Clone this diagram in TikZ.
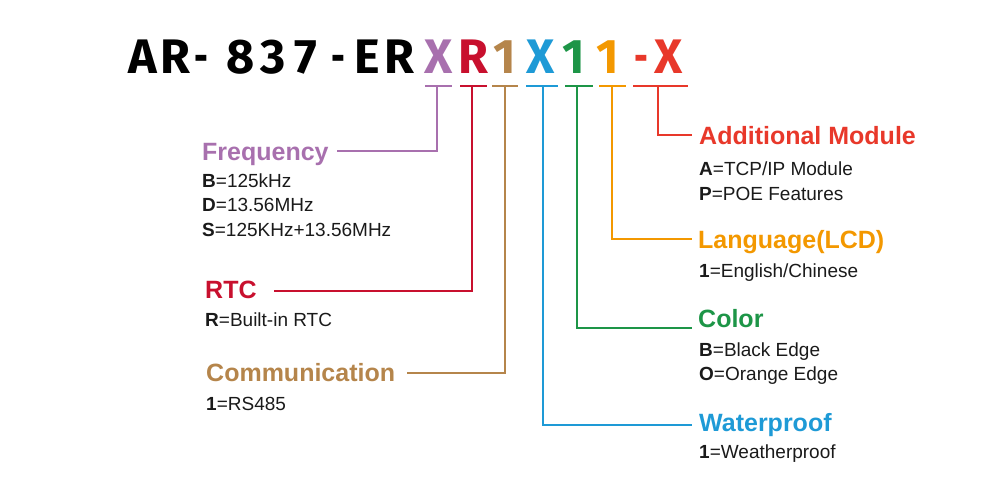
\documentclass[tikz,border=0pt]{standalone}
\usepackage{fontspec}
\setmainfont{Liberation Sans}
\newfontfamily\titlefont{Fira Sans}
\usepackage{graphicx}
\usepackage{tikz}
\newcommand\codedash{\scalebox{0.7}[1]{-}}
\definecolor{cfreq}{HTML}{A870AE}
\definecolor{crtc}{HTML}{C8102E}
\definecolor{ccomm}{HTML}{B5854B}
\definecolor{cwater}{HTML}{1E9AD6}
\definecolor{ccolor}{HTML}{1D9547}
\definecolor{clang}{HTML}{F39800}
\definecolor{cmod}{HTML}{E8382A}
\definecolor{ctext}{HTML}{1A1A1A}

\begin{document}
\begin{tikzpicture}[x=1pt, y=-1pt, every node/.style={inner sep=0pt, anchor=base west},
	letter/.style={anchor=base, font=\titlefont\bfseries\fontsize{48.5}{48.5}\selectfont},
	head/.style={font=\bfseries\fontsize{25}{25}\selectfont, text height=17.5pt, text depth=0pt},
	desc/.style={font=\fontsize{19}{19}\selectfont, text=ctext},
	lead/.style={line width=1.7pt}]
	
	\useasboundingbox (0,0) rectangle (1000,500);
	
	% model code
	\foreach \ch/\xx/\cc [count=\i] in {A/142.5/black, R/175/black, \codedash/201.5/black, 8/240.5/black, 3/273.5/black, 7/305.5/black, \codedash/338.5/black, E/367/black, R/399/black, X/439/cfreq, R/473.5/crtc, 1/504.5/ccomm, X/541/cwater, 1/574/ccolor, 1/607.5/clang, \codedash/641/cmod, X/669/cmod}
	\node[letter, text=\cc] (t\i) at (\xx,74) {\ch};
	
	% underlines
	\foreach \a/\b/\m/\cc [count=\i] in {425/452/437/cfreq, 460/487/472/crtc, 492/518/505/ccomm, 526/558/543/cwater, 565/593/577/ccolor, 599/626/612/clang, 633/688/658/cmod}
	{
		\draw[lead, \cc] (\a,86) -- (\b,86);
		\coordinate (u\i) at (\m,86);
	}
	
	% left column
	\node[head, text=cfreq] (freq) at (202,160) {Frequency};
	\node[desc] (freqB) at (202,187.3) {\textbf{B}=125kHz};
	\node[desc] (freqD) at (202,211.7) {\textbf{D}=13.56MHz};
	\node[desc] (freqS) at (202,236) {\textbf{S}=125KHz+13.56MHz};
	
	\node[head, text=crtc] (rtc) at (205,298) {RTC};
	\node[desc] (rtcR) at (205,326.7) {\textbf{R}=Built-in RTC};
	
	\node[head, text=ccomm] (comm) at (206,381.7) {Communication};
	\node[desc] (comm1) at (206,410) {\textbf{1}=RS485};
	
	% right column
	\node[head, text=cmod] (mod) at (699,144) {Additional Module};
	\node[desc] (modA) at (699,175) {\textbf{A}=TCP/IP Module};
	\node[desc] (modP) at (699,200.7) {\textbf{P}=POE Features};
	
	\node[head, text=clang] (lang) at (698,248) {Language(LCD)};
	\node[desc] (lang1) at (699,277.3) {\textbf{1}=English/Chinese};
	
	\node[head, text=ccolor] (color) at (698,327.7) {Color};
	\node[desc] (colorB) at (699,356) {\textbf{B}=Black Edge};
	\node[desc] (colorO) at (699,380.7) {\textbf{O}=Orange Edge};
	
	\node[head, text=cwater] (water) at (699,431) {Waterproof};
	\node[desc] (water1) at (699,458.3) {\textbf{1}=Weatherproof};
	
	% leaders
	\draw[lead, cfreq] (u1) |- ([xshift=8pt]freq.east);
	\draw[lead, crtc] (u2) |- ([xshift=17pt, yshift=-2pt]rtc.east);
	\draw[lead, ccomm] (u3) |- ([xshift=12pt]comm.east);
	\draw[lead, cwater] (u4) |- ([xshift=-7pt, yshift=-3pt]water.west);
	\draw[lead, ccolor] (u5) |- ([xshift=-6pt]color.base west);
	\draw[lead, clang] (u6) |- ([xshift=-6pt]lang.west);
	\draw[lead, cmod] (u7) |- ([xshift=-7pt]mod.west);
\end{tikzpicture}
\end{document}
